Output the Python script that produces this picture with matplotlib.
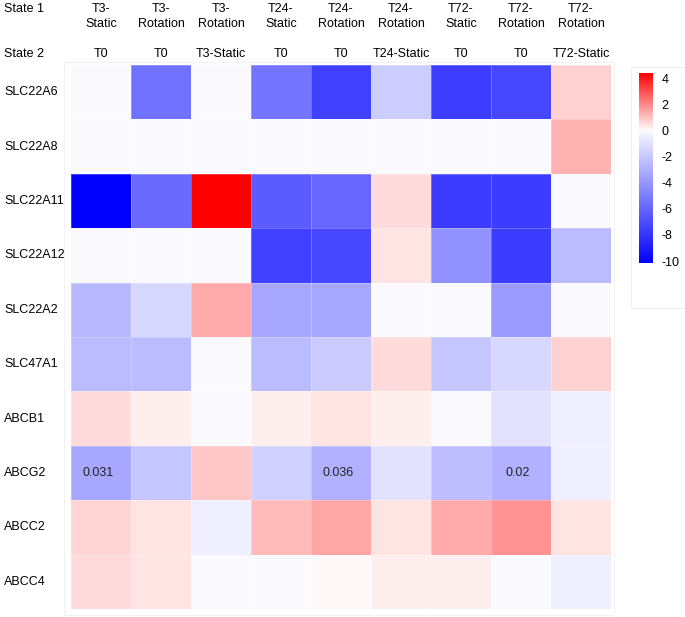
"""Heatmap of transporter log2 fold changes across culture conditions.

Writes out.png (685x617 px).
"""

import matplotlib
matplotlib.use("Agg")
import matplotlib.pyplot as plt
import numpy as np
from matplotlib.colors import LinearSegmentedColormap, Normalize
from matplotlib.patches import Rectangle
from matplotlib.transforms import blended_transform_factory

plt.rcParams["font.family"] = ["Liberation Sans", "DejaVu Sans"]

STATE1 = ["T3-Static", "T3-Rotation", "T3-Rotation", "T24-Static", "T24-Rotation",
          "T24-Rotation", "T72-Static", "T72-Rotation", "T72-Rotation"]
STATE2 = ["T0", "T0", "T3-Static", "T0", "T0", "T24-Static", "T0", "T0", "T72-Static"]
GENES = ["SLC22A6", "SLC22A8", "SLC22A11", "SLC22A12", "SLC22A2",
         "SLC47A1", "ABCB1", "ABCG2", "ABCC2", "ABCC4"]

SLC22A6 = [0.0, -5.5, 0.0, -5.4, -7.5, -1.8, -7.6, -7.2, 0.73]
SLC22A8 = [0.0, 0.0, 0.0, 0.0, 0.0, 0.0, 0.0, 0.0, 1.26]
SLC22A11 = [-10.15, -5.8, 4.4, -6.4, -5.9, 0.59, -7.7, -7.7, 0.0]
SLC22A12 = [0.0, 0.0, 0.0, -7.5, -7.2, 0.41, -4.2, -7.7, -2.5]
SLC22A2 = [-2.6, -1.3, 1.41, -3.3, -3.3, 0.0, 0.0, -3.8, 0.0]
SLC47A1 = [-2.5, -2.5, 0.0, -2.5, -1.9, 0.55, -2.1, -1.3, 0.73]
ABCB1 = [0.55, 0.2, 0.0, 0.22, 0.41, 0.2, 0.0, -0.9, -0.4]
ABCG2 = [-3.3, -2.1, 0.91, -1.6, -2.9, -0.9, -2.35, -2.9, -0.4]
ABCC2 = [0.69, 0.41, -0.4, 1.12, 1.48, 0.41, 1.41, 1.83, 0.41]
ABCC4 = [0.55, 0.41, 0.0, 0.0, 0.06, 0.2, 0.2, 0.0, -0.4]

# p-values printed in the cells: (row, col, text)
P_LABELS = [(7, 0, "0.031"), (7, 4, "0.036"), (7, 7, "0.02")]

VMIN, VMAX = -10.15, 4.4
CB_TICKS = [-10, -8, -6, -4, -2, 0, 2, 4]

W, H = 685, 617
FS = 9


def fx(px):
    return px / W


def fy(py):
    return 1 - py / H


def main():
    values = np.array([SLC22A6, SLC22A8, SLC22A11, SLC22A12, SLC22A2,
                       SLC47A1, ABCB1, ABCG2, ABCC2, ABCC4])

    # blue -> near-white at 0 -> red, with 0 placed linearly on the bar
    mid = (0 - VMIN) / (VMAX - VMIN)
    cmap = LinearSegmentedColormap.from_list(
        "bwr_custom",
        [(0.0, (0, 0, 1)), (mid, (0.973, 0.973, 1.0)),
         (mid + 0.002, (1.0, 0.98, 0.98)), (1.0, (1, 0, 0))],
        N=256)
    norm = Normalize(vmin=VMIN, vmax=VMAX)

    fig = plt.figure(figsize=(W / 100, H / 100), dpi=100)

    # faint frames behind heatmap and legend
    fig.patches.append(Rectangle((fx(64), fy(615)), fx(614) - fx(64), fy(62) - fy(615),
                                 transform=fig.transFigure, fill=False,
                                 edgecolor="#f2f2f2", lw=0.8))
    fig.patches.append(Rectangle((fx(631), fy(308)), fx(700) - fx(631), fy(67) - fy(308),
                                 transform=fig.transFigure, fill=False,
                                 edgecolor="#f0f0f0", lw=0.8))

    ax = fig.add_axes([fx(71), fy(609), fx(611) - fx(71), fy(65) - fy(609)])
    n_rows, n_cols = values.shape
    mesh = ax.pcolormesh(np.arange(n_cols + 1), np.arange(n_rows + 1), values,
                         cmap=cmap, norm=norm,
                         edgecolors=(1, 1, 1, 0.25), linewidth=0.6)
    ax.set_xlim(0, n_cols)
    ax.set_ylim(n_rows, 0)
    ax.set_axis_off()

    for r, c, txt in P_LABELS:
        ax.text(c + 0.45, r + 0.5, txt, ha="center", va="center",
                fontsize=FS, color="#222222")

    # column headers
    trans = blended_transform_factory(ax.transData, fig.transFigure)
    fig.text(fx(4), fy(9), "State 1", ha="left", va="center", fontsize=FS)
    fig.text(fx(4), fy(54), "State 2", ha="left", va="center", fontsize=FS)
    for i, (s1, s2) in enumerate(zip(STATE1, STATE2)):
        head, tail = s1.split("-", 1)
        ax.text(i + 0.5, fy(9), head + "-", transform=trans,
                ha="center", va="center", fontsize=FS, clip_on=False)
        ax.text(i + 0.5, fy(24), tail, transform=trans,
                ha="center", va="center", fontsize=FS, clip_on=False)
        ax.text(i + 0.5, fy(54), s2, transform=trans,
                ha="center", va="center", fontsize=FS, clip_on=False)

    # row labels
    trans_r = blended_transform_factory(fig.transFigure, ax.transData)
    for j, g in enumerate(GENES):
        ax.text(fx(4), j + 0.5, g, transform=trans_r,
                ha="left", va="center", fontsize=FS, clip_on=False)

    cax = fig.add_axes([fx(639), fy(263), fx(653) - fx(639), fy(73) - fy(263)])
    cb = fig.colorbar(mesh, cax=cax, ticks=CB_TICKS)
    cb.outline.set_visible(False)
    cb.ax.tick_params(length=0, pad=6, labelsize=FS)
    cb.ax.set_yticklabels([str(t) for t in CB_TICKS])

    fig.savefig("out.png", dpi=100)
    plt.close(fig)


if __name__ == "__main__":
    main()
